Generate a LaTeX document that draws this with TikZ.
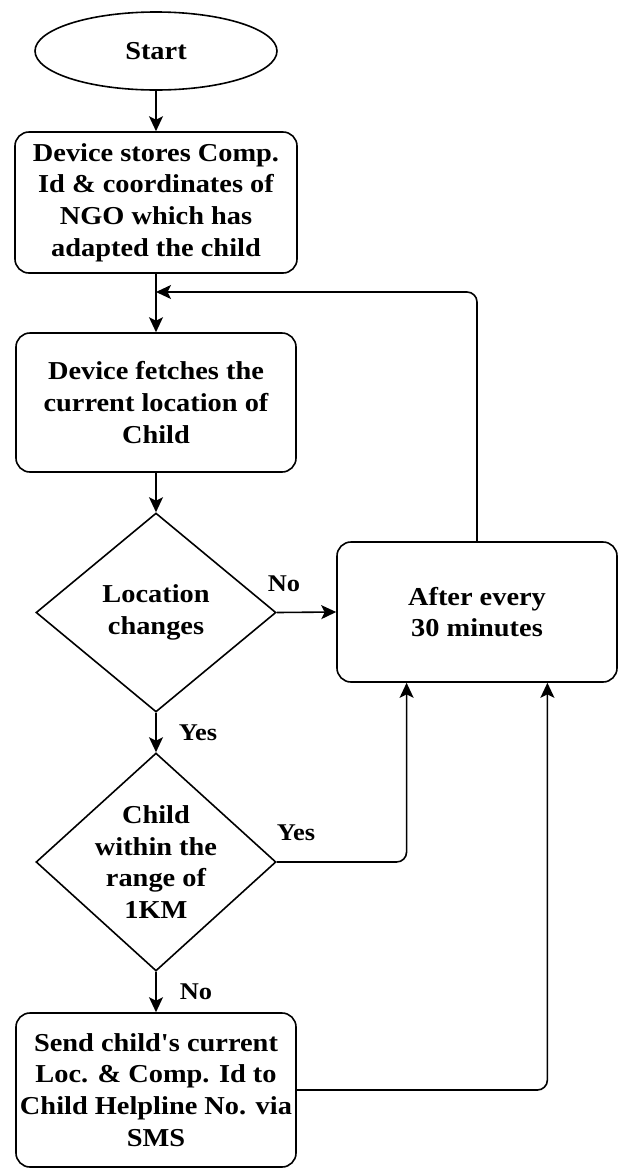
\documentclass[tikz,border=0pt]{standalone}
\usepackage{fontspec}
\setmainfont{Liberation Serif}[FakeStretch=1.1, Ligatures=TeXOff]
\usetikzlibrary{shapes.geometric,arrows.meta,calc}
\begin{document}
\begin{tikzpicture}[x=1pt,y=-1pt,
  every node/.style={font=\bfseries\fontsize{25.8}{31.7}\selectfont},
  proc/.style={draw, line width=1.6pt, rounded corners=14pt, align=center, inner sep=0pt},
  dec/.style={draw, diamond, line width=1.6pt, inner sep=0pt},
  term/.style={draw, ellipse, line width=1.6pt, inner sep=0pt},
  lbl/.style={font=\bfseries\fontsize{24}{28}\selectfont, inner sep=0pt},
  flow/.style={line width=1.6pt, -{Stealth[length=15pt,width=14pt,inset=3.5pt]}},
  ctext/.style={align=center, font=\bfseries\fontsize{25.8}{31.7}\selectfont}
]
\useasboundingbox (0,0) rectangle (619,1171);
\node[term, minimum width=242pt, minimum height=78pt] (start) at (156,51) {Start};
\node[proc, minimum width=282pt, minimum height=141pt] (b1) at (156,202.5) {Device stores Comp.\\Id \& coordinates of\\NGO which has\\adapted the child};
\node[proc, minimum width=280pt, minimum height=139pt] (b2) at (156,402.5) {Device fetches the\\current location of\\Child};
\node[dec, minimum width=240pt, minimum height=199pt, label={[ctext]center:Location\\changes}] (d1) at (156,612.5) {};
\node[proc, minimum width=280pt, minimum height=140pt] (b3) at (477,612) {After every\\30 minutes};
\node[dec, minimum width=240pt, minimum height=218pt, label={[ctext]center:Child\\within the\\range of\\1KM}] (d2) at (156,862) {};
\node[proc, minimum width=280pt, minimum height=154pt] (b4) at (156,1090) {Send child's current\\Loc. \& Comp. Id to\\Child Helpline No. via\\SMS};

\coordinate (j) at (156,292);
\coordinate (b3s1) at ($(b3.south west)!0.25!(b3.south east)$);
\coordinate (b3s2) at ($(b3.south west)!0.75!(b3.south east)$);

\draw[flow] (start) -- (b1);
\draw[flow] (b1) -- (b2);
\draw[flow] (b2) -- (d1);
\draw[flow] (d1) -- (d2);
\draw[flow] (d1.east) -- (b3.west);
\draw[flow, rounded corners=10pt] (b3.north) |- (j);
\draw[flow, rounded corners=10pt] (d2.east) -| (b3s1);
\draw[flow, rounded corners=10pt] (b4.east) -| (b3s2);
\draw[flow] (d2) -- (b4);

\node[lbl] (lno1) at (284,584) {No};
\node[lbl] (lyes1) at (198,733) {Yes};
\node[lbl] (lyes2) at (296,833) {Yes};
\node[lbl] (lno2) at (196,992) {No};
\end{tikzpicture}
\end{document}
